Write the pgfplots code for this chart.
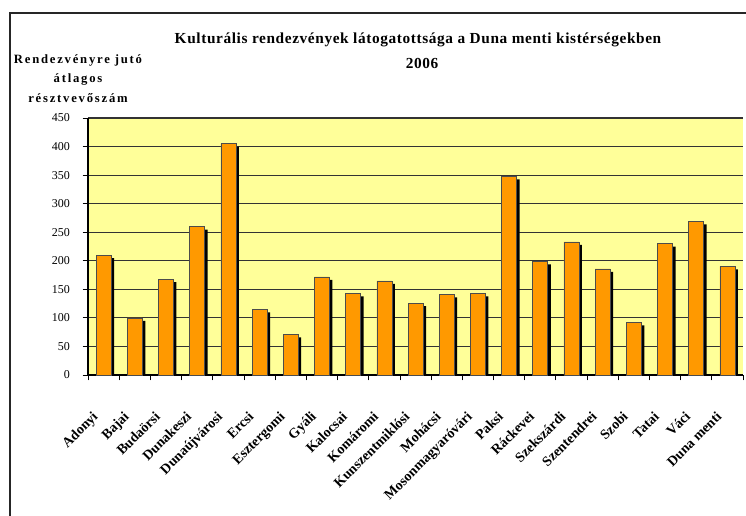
\documentclass[border=0pt]{standalone}
\usepackage{fontspec}
\setmainfont{Liberation Serif}
\newfontfamily\titlefont[LetterSpace=4]{Liberation Serif}
\newfontfamily\spaced[LetterSpace=14]{Liberation Serif}
\usepackage{pgfplots}
\pgfplotsset{compat=1.18}
\definecolor{bgyellow}{HTML}{FFFF99}
\definecolor{barorange}{HTML}{FF9900}

\begin{document}
\begin{tikzpicture}
% page = 746 x 515 px, 1px = 0.75pt, origin at the axis' lower left corner
\useasboundingbox (-66pt,-105pt) rectangle (493.5pt,281.25pt);
\begin{axis}[
    at={(0,0)}, anchor=south west,
    scale only axis,
    width=491.25pt, height=192.75pt,
    xmin=-0.5, xmax=20.5,
    ymin=0, ymax=450,
    axis x line*=bottom, axis y line*=left,
    axis line style={black, line width=0.8pt},
    axis background/.style={fill=bgyellow},
    ymajorgrids=true,
    grid style={black!80, line width=0.9pt},
    ytick={0,50,...,450},
    xtick={-0.5,0.5,...,20.5},
    x tick label as interval,
    xticklabels={Adonyi,Bajai,Budaörsi,Dunakeszi,Dunaújvárosi,Ercsi,Esztergomi,Gyáli,Kalocsai,Komáromi,Kunszentmiklósi,Mohácsi,Mosonmagyaróvári,Paksi,Ráckevei,Szekszárdi,Szentendrei,Szobi,Tatai,Váci,Duna menti},
    tick align=outside,
    major tick length=4pt,
    tick style={black, line width=0.6pt},
    /pgf/number format/assume math mode=true,
    yticklabel style={font=\fontsize{9}{10}\selectfont, xshift=-6pt},
    xticklabel style={yshift=-21pt, xshift=-9pt, rotate=45, anchor=north east,
        inner sep=1pt, font=\bfseries\fontsize{10.5}{12}\selectfont},
]
\addplot[ybar, bar width=11.25pt, fill=barorange, draw=black!70, line width=0.4pt,
    preaction={fill=black, draw=none, transform canvas={xshift=2.25pt, yshift=-2.25pt}}]
coordinates {
(0,210) (1,100) (2,168) (3,260) (4,405) (5,115) (6,71)
(7,172) (8,143) (9,165) (10,126) (11,141) (12,143) (13,348)
(14,199) (15,233) (16,186) (17,92) (18,230) (19,269) (20,190)
};
\end{axis}
\begin{scope}[x=0.75pt, y=0.75pt]
\draw[black!85, line width=1.5pt] (-78,-150) -- (-78,362) -- (680,362);
\node[font=\titlefont\bfseries\fontsize{11.5}{13}\selectfont] at (330,335)
    {Kulturális rendezvények látogatottsága a Duna menti kistérségekben};
\node[font=\titlefont\bfseries\fontsize{11.5}{13}\selectfont] at (334,312) {2006};
\node[font=\spaced\bfseries\fontsize{9.5}{10}\selectfont] at (-10,315) {Rendezvényre jutó};
\node[font=\spaced\bfseries\fontsize{9.5}{10}\selectfont] at (-10,296) {átlagos};
\node[font=\spaced\bfseries\fontsize{9.5}{10}\selectfont] at (-10,277) {résztvevőszám};
\end{scope}
\end{tikzpicture}
\end{document}
